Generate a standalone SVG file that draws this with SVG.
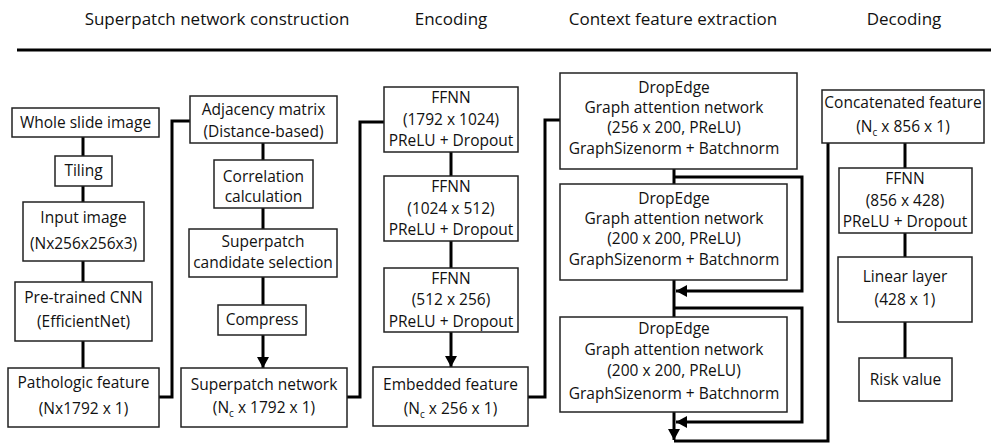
<svg xmlns="http://www.w3.org/2000/svg" width="991" height="444" viewBox="0 0 991 444">
<style>
  .box { fill: #fff; stroke: #222; stroke-width: 1.5; }
  .t { font-family: "Open Sans", "Liberation Sans", sans-serif; font-size: 15.5px; fill: #111; text-anchor: middle; }
  .h { font-family: "Open Sans", "Liberation Sans", sans-serif; font-size: 17px; fill: #111; text-anchor: middle; }
  .sub { font-size: 10px; }
  .c { fill: none; stroke: #000; stroke-width: 3; }
</style>
<defs>
  <marker id="arr" markerUnits="userSpaceOnUse" markerWidth="12" markerHeight="12" refX="11" refY="6" orient="auto">
    <path d="M0,0 L11,6 L0,12 Z" fill="#000"/>
  </marker>
</defs>
<rect width="991" height="444" fill="#fff"/>

<g id="headers">
  <text class="h" x="217" y="25">Superpatch network construction</text>
  <text class="h" x="451" y="25">Encoding</text>
  <text class="h" x="673" y="25">Context feature extraction</text>
  <text class="h" x="904" y="25">Decoding</text>
  <line x1="17" y1="50" x2="991" y2="50" stroke="#000" stroke-width="3"/>
</g>

<g id="connectors">
  <path class="c" d="M83,137 V156 M83,186 V202 M83,261 V282 M83,341 V368"/>
  <path class="c" d="M159,397 H172 V121 H190"/>
  <path class="c" d="M263,143 V160 M263,208 V229 M263,277 V305"/>
  <path class="c" d="M263,335 V368" marker-end="url(#arr)"/>
  <path class="c" d="M347,397 H360 V122 H384"/>
  <path class="c" d="M451,152 V176 M451,241 V268"/>
  <path class="c" d="M451,332 V367" marker-end="url(#arr)"/>
  <path class="c" d="M528,397 H545 V120 H560"/>
  <path class="c" d="M674,169 V184 M674,280 V317"/>
  <path class="c" d="M674,412 V440" marker-end="url(#arr)"/>
  <path class="c" d="M674,177 H802 V291 H676" marker-end="url(#arr)"/>
  <path class="c" d="M674,308 H802 V422 H676" marker-end="url(#arr)"/>
  <path class="c" d="M674,441 H828 V143"/>
  <path class="c" d="M905,143 V168 M905,233 V257 M905,322 V358"/>
</g>

<g id="wsi"><rect class="box" x="12" y="108" width="147" height="29"/><text class="t" x="85.5" y="127.5">Whole slide image</text></g>
<g id="tiling"><rect class="box" x="55" y="156" width="57" height="30"/><text class="t" x="83.5" y="176">Tiling</text></g>
<g id="input"><rect class="box" x="23" y="202" width="121" height="59"/><text class="t" x="83.5" y="223">Input image</text><text class="t" x="83.5" y="249">(Nx256x256x3)</text></g>
<g id="cnn"><rect class="box" x="15" y="282" width="137" height="59"/><text class="t" x="83.5" y="303">Pre-trained CNN</text><text class="t" x="83.5" y="327">(EfficientNet)</text></g>
<g id="patho"><rect class="box" x="8" y="368" width="151" height="59"/><text class="t" x="83.5" y="388">Pathologic feature</text><text class="t" x="83.5" y="414">(Nx1792 x 1)</text></g>

<g id="adj"><rect class="box" x="190" y="96" width="147" height="47"/><text class="t" x="263.5" y="115">Adjacency matrix</text><text class="t" x="263.5" y="137">(Distance-based)</text></g>
<g id="corr"><rect class="box" x="214" y="160" width="99" height="48"/><text class="t" x="263.5" y="182">Correlation</text><text class="t" x="263.5" y="202">calculation</text></g>
<g id="cand"><rect class="box" x="189" y="229" width="148" height="48"/><text class="t" x="263" y="247">Superpatch</text><text class="t" x="263" y="268">candidate selection</text></g>
<g id="compress"><rect class="box" x="218" y="305" width="88" height="30"/><text class="t" x="262" y="325">Compress</text></g>
<g id="spn"><rect class="box" x="181" y="368" width="166" height="59"/><text class="t" x="264" y="390">Superpatch network</text><text class="t" x="264" y="413">(N<tspan class="sub" dy="4">c</tspan><tspan dy="-4"> x 1792 x 1)</tspan></text></g>

<g id="ffnn1"><rect class="box" x="384" y="87" width="134" height="65"/><text class="t" x="451" y="103">FFNN</text><text class="t" x="451" y="124.5">(1792 x 1024)</text><text class="t" x="451" y="146">PReLU + Dropout</text></g>
<g id="ffnn2"><rect class="box" x="384" y="176" width="134" height="65"/><text class="t" x="451" y="192">FFNN</text><text class="t" x="451" y="213.5">(1024 x 512)</text><text class="t" x="451" y="235">PReLU + Dropout</text></g>
<g id="ffnn3"><rect class="box" x="384" y="268" width="134" height="64"/><text class="t" x="451" y="283.5">FFNN</text><text class="t" x="451" y="305">(512 x 256)</text><text class="t" x="451" y="326.5">PReLU + Dropout</text></g>
<g id="emb"><rect class="box" x="373" y="367" width="155" height="59"/><text class="t" x="450.5" y="390">Embedded feature</text><text class="t" x="450.5" y="414">(N<tspan class="sub" dy="4">c</tspan><tspan dy="-4"> x 256 x 1)</tspan></text></g>

<g id="gat1"><rect class="box" x="560" y="73" width="237" height="96"/><text class="t" x="674" y="93">DropEdge</text><text class="t" x="674" y="113">Graph attention network</text><text class="t" x="674" y="133">(256 x 200, PReLU)</text><text class="t" x="674" y="154">GraphSizenorm + Batchnorm</text></g>
<g id="gat2"><rect class="box" x="560" y="184" width="227" height="96"/><text class="t" x="674" y="204">DropEdge</text><text class="t" x="674" y="224">Graph attention network</text><text class="t" x="674" y="244">(200 x 200, PReLU)</text><text class="t" x="674" y="265">GraphSizenorm + Batchnorm</text></g>
<g id="gat3"><rect class="box" x="560" y="317" width="227" height="95"/><text class="t" x="674" y="334">DropEdge</text><text class="t" x="674" y="354.5">Graph attention network</text><text class="t" x="674" y="376">(200 x 200, PReLU)</text><text class="t" x="674" y="399">GraphSizenorm + Batchnorm</text></g>

<g id="concat"><rect class="box" x="822" y="90" width="162" height="53"/><text class="t" x="903" y="108">Concatenated feature</text><text class="t" x="903" y="132">(N<tspan class="sub" dy="4">c</tspan><tspan dy="-4"> x 856 x 1)</tspan></text></g>
<g id="ffnn_dec"><rect class="box" x="839" y="168" width="133" height="65"/><text class="t" x="905" y="184">FFNN</text><text class="t" x="905" y="205.5">(856 x 428)</text><text class="t" x="905" y="227">PReLU + Dropout</text></g>
<g id="linear"><rect class="box" x="838" y="257" width="134" height="65"/><text class="t" x="905" y="282">Linear layer</text><text class="t" x="905" y="305">(428 x 1)</text></g>
<g id="risk"><rect class="box" x="859" y="358" width="93" height="43"/><text class="t" x="905.5" y="384.5">Risk value</text></g>
</svg>
